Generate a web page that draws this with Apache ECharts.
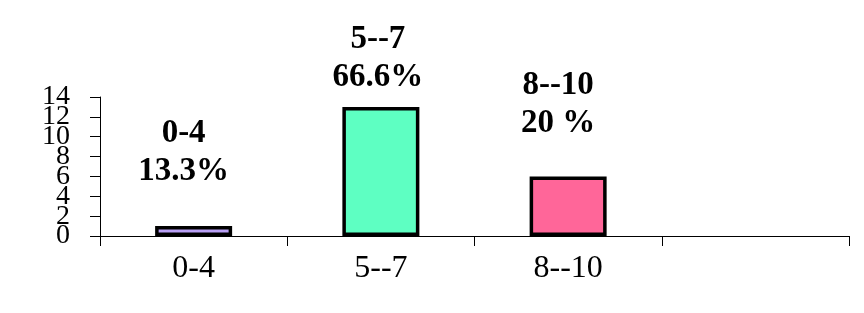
<!DOCTYPE html>
<html><head><meta charset="utf-8">
<script src="https://cdn.jsdelivr.net/npm/echarts@6/dist/echarts.min.js"></script>
<style>html,body{margin:0;padding:0;background:#fff}#c{width:864px;height:313px}</style>
</head><body><div id="c"></div>
<script>
const categories = ['0-4', '5--7', '8--10', ''];
const values = [1, 13, 6, null];
const barLabels = ['0-4\n13.3%', '5--7\n66.6%', '8--10\n20 %', ''];
const yTicks = [0, 2, 4, 6, 8, 10, 12, 14];

const barColors = ['#B9A0F5', '#5EFFC2', '#FF6699', '#ffffff'];
const labelDist = [36, 10, 34, 0];
const labelShift = [-10, -3, -10, 0];
const font = '"Liberation Serif","Times New Roman",serif';

// two overlaid value axes so that the tightly packed tick labels can overlap like the original
function yAx(show, parity) {
  return {
    type: 'value', min: yTicks[0], max: yTicks[yTicks.length - 1], interval: 2,
    position: 'left',
    axisLine: { show: show, lineStyle: { color: '#000', width: 1 } },
    axisTick: { show: show, length: 10, lineStyle: { color: '#000' } },
    splitLine: { show: false },
    axisLabel: {
      color: '#000', fontFamily: font, fontSize: 28, margin: 30,
      showMinLabel: true, showMaxLabel: true, hideOverlap: false,
      formatter: v => (yTicks.indexOf(v) % 2 === parity ? String(v) : '')
    }
  };
}

const chart = echarts.init(document.getElementById('c'));
chart.setOption({
  animation: false,
  grid: { left: 100, right: 15, top: 97, bottom: 77 },
  xAxis: {
    type: 'category', data: categories,
    axisLine: { lineStyle: { color: '#000', width: 1 } },
    axisTick: { show: true, length: 10, lineStyle: { color: '#000' } },
    axisLabel: { color: '#000', fontFamily: font, fontSize: 32, margin: 17 }
  },
  yAxis: [yAx(true, 0), yAx(false, 1)],
  series: [{
    type: 'bar', barWidth: 77, yAxisIndex: 0,
    data: values.map((v, i) => ({
      value: v,
      itemStyle: { color: barColors[i], borderColor: '#000', borderWidth: 3.5 },
      label: {
        show: v != null, position: 'top', distance: labelDist[i],
        offset: [labelShift[i], 0],
        formatter: barLabels[i], color: '#000', fontFamily: font,
        fontWeight: 'bold', fontSize: 33, lineHeight: 38, align: 'center'
      }
    }))
  }]
});
</script></body></html>
